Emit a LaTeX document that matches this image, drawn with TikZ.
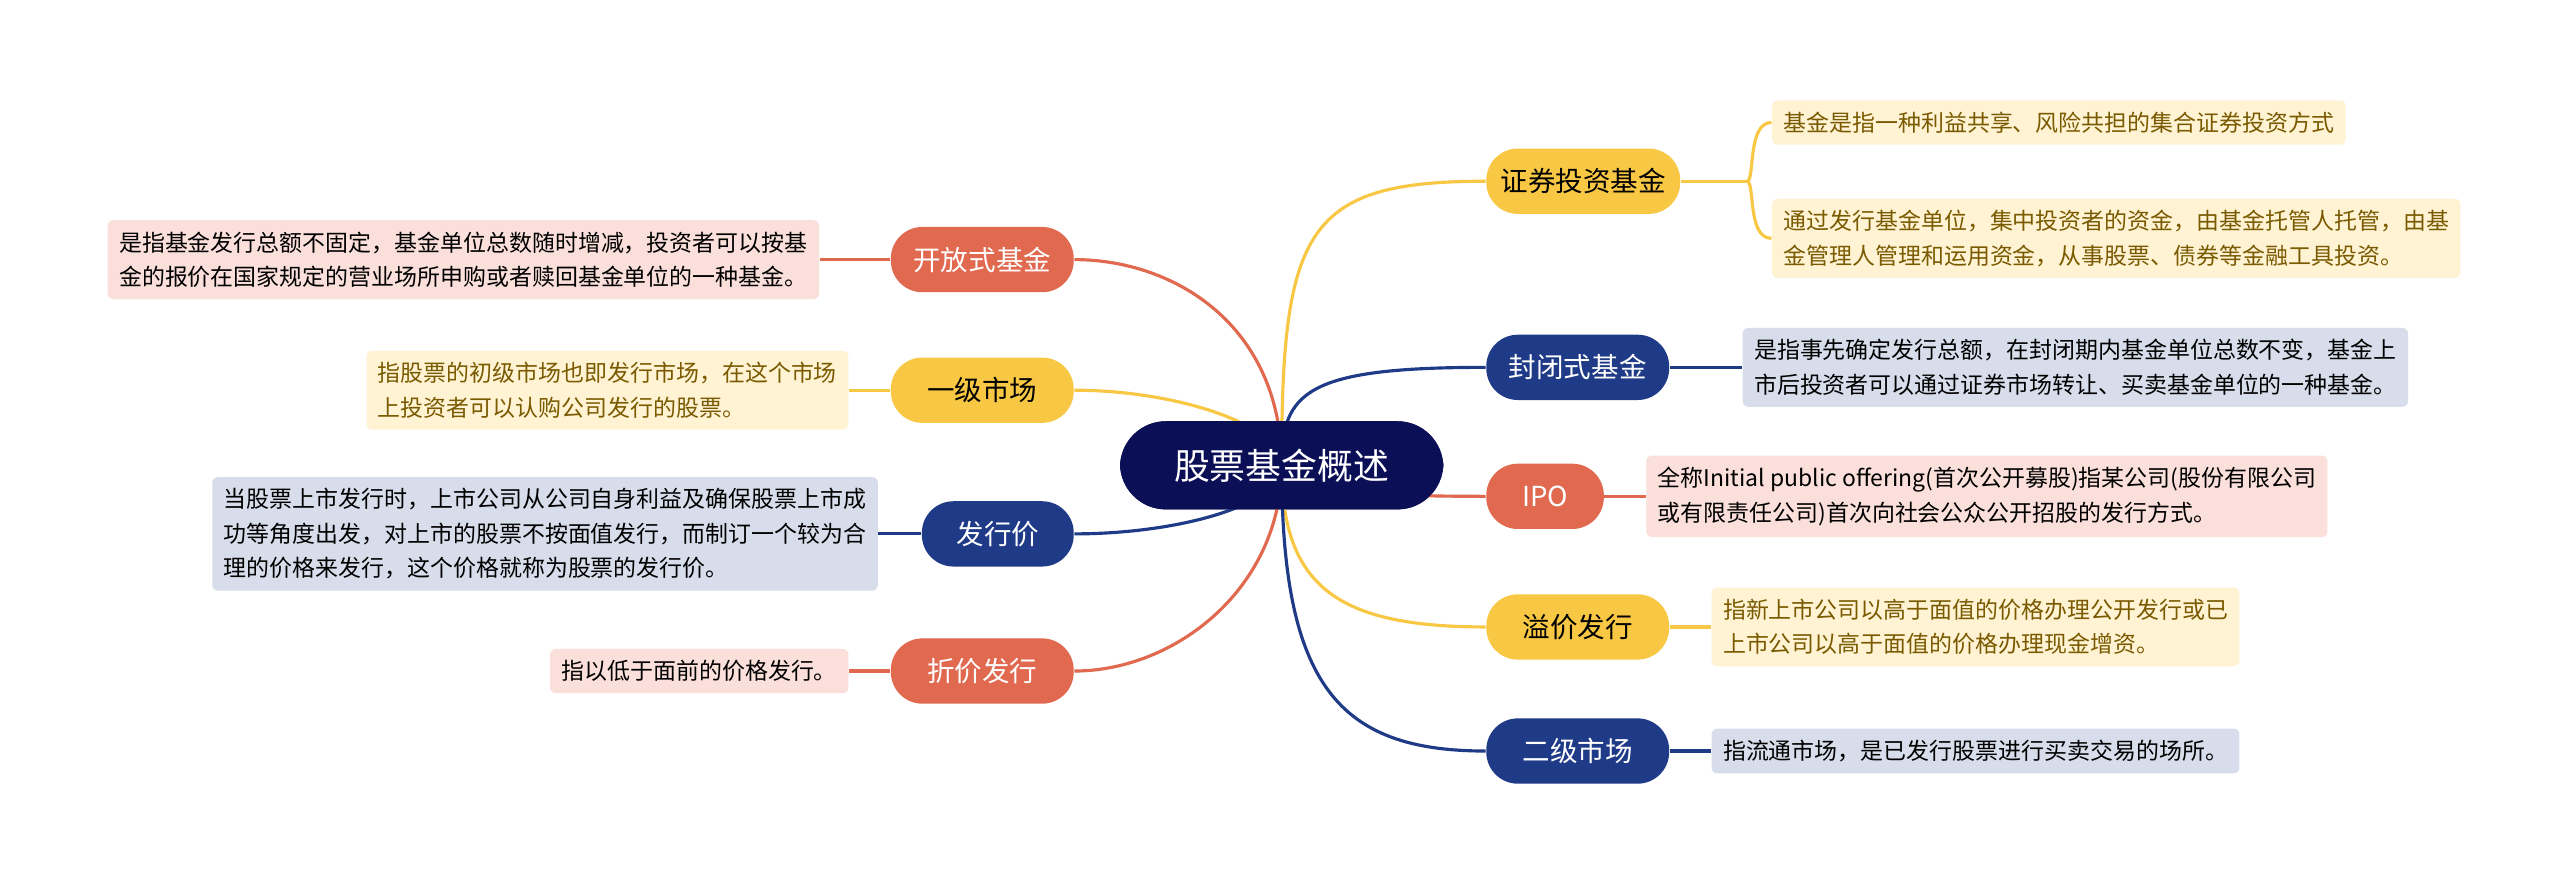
\documentclass[tikz,border=0pt]{standalone}
\usepackage{fontspec}
\setmainfont{Noto Sans CJK SC}
\usetikzlibrary{positioning}
\definecolor{hub}{HTML}{0B0F55}
\definecolor{yel}{HTML}{F8C744}
\definecolor{yelleaf}{HTML}{FFF3D4}
\definecolor{yeltext}{HTML}{7A5A00}
\definecolor{blu}{HTML}{1F3A86}
\definecolor{bluleaf}{HTML}{D7DDEA}
\definecolor{red}{HTML}{E0694F}
\definecolor{redleaf}{HTML}{FADFDA}
\tikzset{
  hubbox/.style={fill=hub, text=white, rounded corners=16pt, minimum width=198\unitlen, minimum height=54\unitlen, font=\fontsize{12.5}{15}\selectfont},
  branch/.style={fill=#1, rounded corners=11pt, minimum height=40\unitlen, minimum width=112\unitlen, inner xsep=5pt, font=\fontsize{9.6}{12}\selectfont},
  leaf/.style={fill=#1, rounded corners=2pt, align=left, inner sep=4pt, font=\fontsize{8}{12}\selectfont},
  link/.style={draw=#1, line width=1.1pt},
}
\newlength\unitlen \setlength\unitlen{0.02cm}
\begin{document}
\begin{tikzpicture}[x=0.02cm, y=-0.02cm]
\useasboundingbox (0,0) rectangle (1568,541);
\fill[white] (0,0) rectangle (1568,541);

% centre
\node[hubbox] (hub) at (785,285) {股票基金概述};

% right side
\node[branch=yel, text=black, anchor=west] (zq) at (910,111) {证券投资基金};
\node[branch=blu, text=white, anchor=west] (fb) at (910,225) {封闭式基金};
\node[branch=red, text=white, anchor=west, minimum width=72\unitlen] (ipo) at (910,304) {IPO};
\node[branch=yel, text=black, anchor=west] (yj) at (910,384) {溢价发行};
\node[branch=blu, text=white, anchor=west] (ej) at (910,460) {二级市场};

% left side
\node[branch=red, text=white, anchor=east] (kf) at (658,159) {开放式基金};
\node[branch=yel, text=black, anchor=east] (yi) at (658,239) {一级市场};
\node[branch=blu, text=white, anchor=east, minimum width=93\unitlen] (fx) at (658,327) {发行价};
\node[branch=red, text=white, anchor=east] (zj) at (658,411) {折价发行};

% leaves
\node[leaf=yelleaf, text=yeltext, anchor=west] (zq1) at (1085,75) {基金是指一种利益共享、风险共担的集合证券投资方式};
\node[leaf=yelleaf, text=yeltext, anchor=west] (zq2) at (1085,146) {通过发行基金单位，集中投资者的资金，由基金托管人托管，由基\\金管理人管理和运用资金，从事股票、债券等金融工具投资。};
\node[leaf=bluleaf, text=black, anchor=west] (fb1) at (1067,225) {是指事先确定发行总额，在封闭期内基金单位总数不变，基金上\\市后投资者可以通过证券市场转让、买卖基金单位的一种基金。};
\node[leaf=redleaf, text=black, anchor=west] (ipo1) at (1008,304) {全称Initial public offering(首次公开募股)指某公司(股份有限公司\\或有限责任公司)首次向社会公众公开招股的发行方式。};
\node[leaf=yelleaf, text=yeltext, anchor=west] (yj1) at (1048,384) {指新上市公司以高于面值的价格办理公开发行或已\\上市公司以高于面值的价格办理现金增资。};
\node[leaf=bluleaf, text=black, anchor=west] (ej1) at (1048,460) {指流通市场，是已发行股票进行买卖交易的场所。};
\node[leaf=redleaf, text=black, anchor=east] (kf1) at (502,159) {是指基金发行总额不固定，基金单位总数随时增减，投资者可以按基\\金的报价在国家规定的营业场所申购或者赎回基金单位的一种基金。};
\node[leaf=yelleaf, text=yeltext, anchor=east] (yi1) at (520,239) {指股票的初级市场也即发行市场，在这个市场\\上投资者可以认购公司发行的股票。};
\node[leaf=bluleaf, text=black, anchor=east] (fx1) at (538,327) {当股票上市发行时，上市公司从公司自身利益及确保股票上市成\\功等角度出发，对上市的股票不按面值发行，而制订一个较为合\\理的价格来发行，这个价格就称为股票的发行价。};
\node[leaf=redleaf, text=black, anchor=east] (zj1) at (520,411) {指以低于面前的价格发行。};

% hub to branches
\coordinate (hr) at (785,285);
\draw[link=yel] (hr) .. controls (785,140) and (800,111) .. (zq.west);
\draw[link=blu] (hr) .. controls (785,240) and (800,225) .. (fb.west);
\draw[link=red] (hr) .. controls (785,300) and (830,304) .. (ipo.west);
\draw[link=yel] (hr) .. controls (785,360) and (820,384) .. (yj.west);
\draw[link=blu] (hr) .. controls (785,420) and (820,460) .. (ej.west);
\draw[link=red] (hr) .. controls (785,200) and (720,159) .. (kf.east);
\draw[link=yel] (hr) .. controls (785,260) and (720,239) .. (yi.east);
\draw[link=blu] (hr) .. controls (785,310) and (720,327) .. (fx.east);
\draw[link=red] (hr) .. controls (785,360) and (720,411) .. (zj.east);
\node[hubbox] at (hub) {股票基金概述};

% branches to leaves
\coordinate (fork) at (1070,111);
\draw[link=yel] (zq.east) -- (fork);
\draw[link=yel] (fork) .. controls (1075,111) and (1070,75) .. (zq1.west);
\draw[link=yel] (fork) .. controls (1075,111) and (1070,146) .. (zq2.west);
\draw[link=blu] (fb.east) -- (fb1.west);
\draw[link=red] (ipo.east) -- (ipo1.west);
\draw[link=yel] (yj.east) -- (yj1.west);
\draw[link=blu] (ej.east) -- (ej1.west);
\draw[link=red] (kf.west) -- (kf1.east);
\draw[link=yel] (yi.west) -- (yi1.east);
\draw[link=blu] (fx.west) -- (fx1.east);
\draw[link=red] (zj.west) -- (zj1.east);
\end{tikzpicture}
\end{document}
